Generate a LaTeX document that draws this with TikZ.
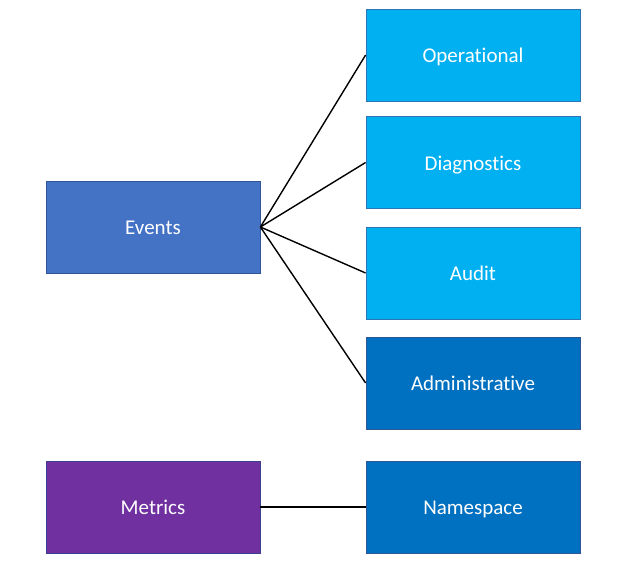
\documentclass[tikz,border=0pt]{standalone}
\usepackage{fontspec}
\setmainfont{Carlito}[Ligatures=NoCommon]
\definecolor{evfill}{HTML}{4472C4}
\definecolor{evdraw}{HTML}{2F5597}
\definecolor{ltfill}{HTML}{00B0F0}
\definecolor{ltdraw}{HTML}{2E75B6}
\definecolor{dkfill}{HTML}{0070C0}
\definecolor{dkdraw}{HTML}{2F5597}
\definecolor{mtfill}{HTML}{7030A0}
\definecolor{mtdraw}{HTML}{3F3F8F}
\begin{document}
\begin{tikzpicture}[x=1pt,y=-1pt,
  box/.style={rectangle, minimum width=214pt, minimum height=92pt, line width=0.8pt, text=white, font=\fontsize{21}{24}\selectfont, inner sep=0pt, text height=15pt, text depth=0pt},
  conn/.style={draw=black, line width=1.4pt}]
\useasboundingbox[fill=white] (0,0) rectangle (627,565);
\node[box, fill=evfill, draw=evdraw] (ev) at (153,227) {Events};
\node[box, fill=ltfill, draw=ltdraw] (op) at (473,55) {Operational};
\node[box, fill=ltfill, draw=ltdraw] (dg) at (473,162.5) {Diagnostics};
\node[box, fill=ltfill, draw=ltdraw] (au) at (473,273) {Audit};
\node[box, fill=dkfill, draw=dkdraw] (ad) at (473,383) {Administrative};
\node[box, fill=mtfill, draw=mtdraw] (mt) at (153,507) {Metrics};
\node[box, fill=dkfill, draw=dkdraw] (ns) at (473,507) {Namespace};
\draw[conn] (ev.east) -- (op.west);
\draw[conn] (ev.east) -- (dg.west);
\draw[conn] (ev.east) -- (au.west);
\draw[conn] (ev.east) -- (ad.west);
\draw[conn] (mt.east) -- (ns.west);
\end{tikzpicture}
\end{document}
